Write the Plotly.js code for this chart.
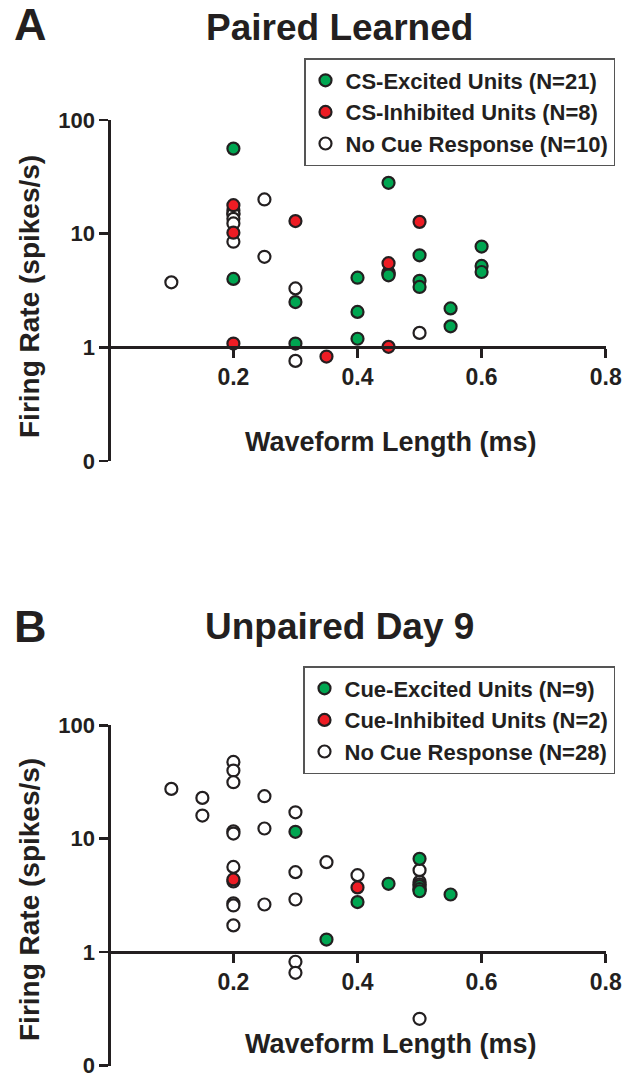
<!DOCTYPE html>
<html>
<head>
<meta charset="utf-8">
<script src="https://cdn.plot.ly/plotly-3.0.1.min.js"></script>
<style>html,body{margin:0;padding:0;background:#fff;}#chart{width:625px;height:1080px;}</style>
</head>
<body>
<div id="chart"></div>
<script>
// ---------- DATA ----------
// Panel A: Paired Learned
const panelATitle = "Paired Learned";
const aExcitedName = "CS-Excited Units (N=21)";
const aInhibitedName = "CS-Inhibited Units (N=8)";
const aNoneName = "No Cue Response (N=10)";
const aExcitedX = [0.2, 0.2, 0.2, 0.2, 0.3, 0.3, 0.4, 0.4, 0.4, 0.45, 0.45, 0.45, 0.45, 0.5, 0.5, 0.5, 0.55, 0.55, 0.6, 0.6, 0.6];
const aExcitedY = [56, 16, 15, 4.0, 2.5, 1.08, 4.1, 2.05, 1.19, 28, 4.55, 4.4, 4.3, 6.45, 3.85, 3.4, 2.2, 1.53, 7.7, 5.2, 4.6];
const aInhibitedX = [0.2, 0.2, 0.2, 0.3, 0.35, 0.45, 0.45, 0.5];
const aInhibitedY = [17.8, 10.2, 1.08, 12.9, 0.83, 5.5, 1.01, 12.7];
const aNoneX = [0.1, 0.2, 0.2, 0.2, 0.2, 0.25, 0.25, 0.3, 0.3, 0.5];
const aNoneY = [3.73, 14.9, 13.5, 12.3, 8.5, 20, 6.26, 3.3, 0.76, 1.34];

// Panel B: Unpaired Day 9
const panelBTitle = "Unpaired Day 9";
const bExcitedName = "Cue-Excited Units (N=9)";
const bInhibitedName = "Cue-Inhibited Units (N=2)";
const bNoneName = "No Cue Response (N=28)";
const bExcitedX = [0.3, 0.35, 0.4, 0.45, 0.5, 0.5, 0.5, 0.5, 0.55];
const bExcitedY = [11.5, 1.29, 2.76, 4.0, 6.64, 3.81, 3.6, 3.44, 3.22];
const bInhibitedX = [0.2, 0.4];
const bInhibitedY = [4.37, 3.72];
const bNoneX = [0.1, 0.15, 0.15, 0.2, 0.2, 0.2, 0.2, 0.2, 0.2, 0.2, 0.2, 0.2, 0.2, 0.25, 0.25, 0.25, 0.3, 0.3, 0.3, 0.3, 0.3, 0.35, 0.4, 0.5, 0.5, 0.5, 0.5, 0.5];
const bNoneY = [27.5, 22.9, 16.0, 47.5, 39.9, 31.5, 11.6, 11.1, 5.64, 4.2, 2.69, 2.58, 1.72, 23.7, 12.3, 2.63, 17.1, 5.07, 2.91, 0.822, 0.657, 6.21, 4.77, 5.28, 4.16, 3.95, 3.57, 0.258];

// Axis ticks
const xTickVals = [0.2, 0.4, 0.6, 0.8];
const xTickText = ["0.2", "0.4", "0.6", "0.8"];
const yTickVals = [0.1, 1, 10, 100];
const yTickText = ["0", "1", "10", "100"];
const xTitle = "Waveform Length (ms)";
const yTitle = "Firing Rate (spikes/s)";

// ---------- STYLE ----------
const W = 625, H = 1080;
const px = v => v / W;
const py = v => 1 - v / H;
const FONT = "Liberation Sans, Arial, Helvetica, sans-serif";
const INK = "#231f20";
const GREEN = "#00a651";
const RED = "#ed1c24";

function mk(x, y, name, color, xa, ya, legend, rank) {
  return {
    type: "scatter", mode: "markers", x: x, y: y, name: name,
    xaxis: xa, yaxis: ya, legend: legend, legendrank: rank,
    cliponaxis: false,
    marker: {size: 12, color: color, line: {color: INK, width: 2.2}}
  };
}

const traces = [
  mk(aExcitedX, aExcitedY, aExcitedName, GREEN, "x", "y", "legend", 1),
  mk(aNoneX, aNoneY, aNoneName, "#ffffff", "x", "y", "legend", 3),
  mk(aInhibitedX, aInhibitedY, aInhibitedName, RED, "x", "y", "legend", 2),
  mk(bNoneX, bNoneY, bNoneName, "#ffffff", "x2", "y2", "legend2", 3),
  mk(bExcitedX, bExcitedY, bExcitedName, GREEN, "x2", "y2", "legend2", 1),
  mk(bInhibitedX, bInhibitedY, bInhibitedName, RED, "x2", "y2", "legend2", 2)
];

const xDomain = [px(109.3), px(605.7)];
const aTop = 120, aBot = 461, aOne = 347.3;
const bTop = 725.3, bBot = 1065.5, bOne = 952;

function xAxis(pos) {
  return {
    domain: xDomain, range: [0, 0.8], anchor: "free", position: pos,
    showline: true, linecolor: INK, linewidth: 2.5,
    ticks: "outside", ticklen: 9, tickwidth: 2.5, tickcolor: INK,
    tickvals: xTickVals, ticktext: xTickText,
    tickfont: {family: FONT, size: 23, color: INK, weight: "bold"},
    ticklabeloverflow: "allow",
    showgrid: false, zeroline: false, fixedrange: true
  };
}
function yAxis(top, bot) {
  return {
    domain: [py(bot), py(top)], type: "log", range: [-1, 2],
    anchor: "free", position: xDomain[0],
    showline: true, linecolor: INK, linewidth: 2.5,
    ticks: "outside", ticklen: 9, tickwidth: 2.5, tickcolor: INK,
    tickvals: yTickVals, ticktext: yTickText,
    tickfont: {family: FONT, size: 22, color: INK, weight: "bold"},
    ticklabeloverflow: "allow",
    showgrid: false, zeroline: false, fixedrange: true
  };
}

function legendCfg(topPx) {
  return {
    x: px(615), xanchor: "right", y: py(topPx), yanchor: "top",
    bgcolor: "#ffffff", bordercolor: "#555555", borderwidth: 1.5,
    font: {family: FONT, size: 22, color: INK, weight: "bold"},
    itemsizing: "trace", tracegroupgap: 0, traceorder: "normal"
  };
}

function ann(text, xPx, yPx, size, opts) {
  return Object.assign({
    text: text, xref: "paper", yref: "paper", x: px(xPx), y: py(yPx),
    xanchor: "center", yanchor: "middle", showarrow: false,
    font: {family: FONT, size: size, color: INK, weight: "bold"}
  }, opts || {});
}

const annotations = [
  ann("A", 12, 24, 45, {xanchor: "left"}),
  ann(panelATitle, 339, 27, 37),
  ann("B", 12, 626, 45, {xanchor: "left"}),
  ann(panelBTitle, 339, 626, 37),
  ann(xTitle, 391, 442, 27),
  ann(xTitle, 391, 1044, 27),
  ann(yTitle, 29, 297, 28, {textangle: -90}),
  ann(yTitle, 29, 900, 28, {textangle: -90})
];

const layout = {
  width: W, height: H,
  margin: {l: 0, r: 0, t: 0, b: 0},
  paper_bgcolor: "#ffffff", plot_bgcolor: "rgba(0,0,0,0)",
  showlegend: true,
  xaxis: xAxis(py(aOne)), yaxis: yAxis(aTop, aBot),
  xaxis2: xAxis(py(bOne)), yaxis2: yAxis(bTop, bBot),
  legend: legendCfg(58),
  legend2: legendCfg(666),
  annotations: annotations,
  font: {family: FONT, color: INK}
};

Plotly.newPlot("chart", traces, layout, {displayModeBar: false, staticPlot: true});
</script>
</body>
</html>
